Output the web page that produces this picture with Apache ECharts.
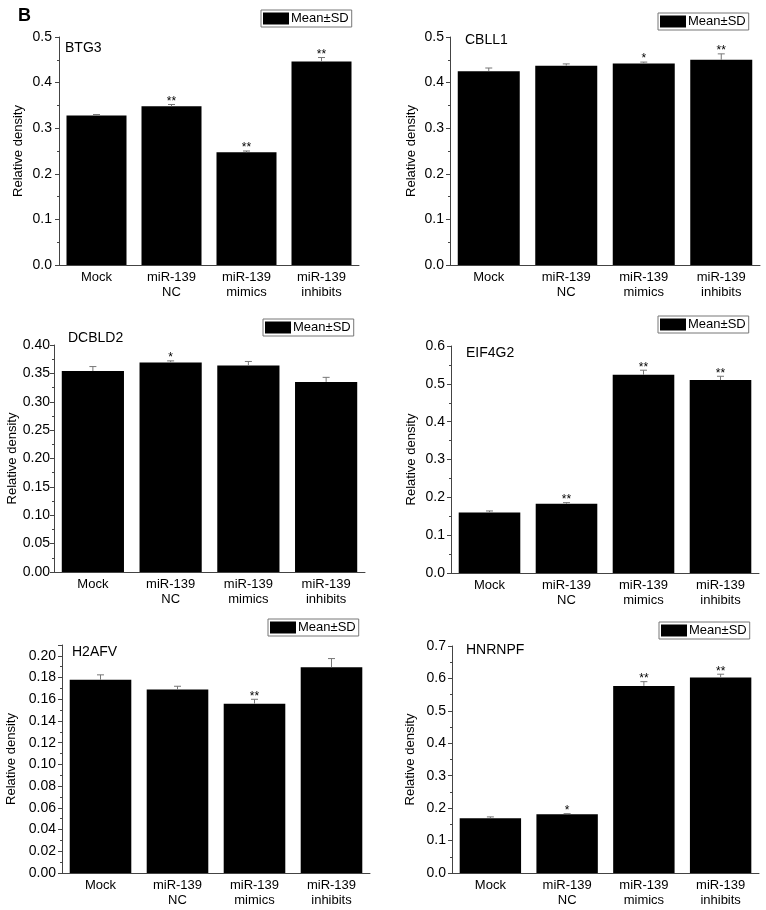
<!DOCTYPE html>
<html>
<head>
<meta charset="utf-8">
<script src="https://cdn.jsdelivr.net/npm/echarts@6/dist/echarts.min.js"></script>
<style>
html,body{margin:0;padding:0;background:#fff;}
#chart{width:766px;height:910px;}
</style>
</head>
<body>
<div id="chart"></div>
<script>
// ---- data ----
const categories = ['Mock', 'miR-139\nNC', 'miR-139\nmimics', 'miR-139\ninhibits'];
const geneNames = ['BTG3', 'CBLL1', 'DCBLD2', 'EIF4G2', 'H2AFV', 'HNRNPF'];

const btg3Mean = [0.328, 0.348, 0.247, 0.446];
const btg3SD = [0.002, 0.004, 0.003, 0.009];
const btg3Sig = ['', '**', '**', '**'];

const cbll1Mean = [0.425, 0.437, 0.442, 0.450];
const cbll1SD = [0.007, 0.004, 0.003, 0.013];
const cbll1Sig = ['', '', '*', '**'];

const dcbld2Mean = [0.354, 0.369, 0.364, 0.335];
const dcbld2SD = [0.008, 0.003, 0.007, 0.008];
const dcbld2Sig = ['', '*', '', ''];

const eif4g2Mean = [0.160, 0.183, 0.524, 0.510];
const eif4g2SD = [0.004, 0.003, 0.012, 0.010];
const eif4g2Sig = ['', '**', '**', '**'];

const h2afvMean = [0.178, 0.169, 0.156, 0.1895];
const h2afvSD = [0.0045, 0.003, 0.004, 0.008];
const h2afvSig = ['', '', '**', ''];

const hnrnpfMean = [0.169, 0.181, 0.577, 0.603];
const hnrnpfSD = [0.004, 0.002, 0.013, 0.010];
const hnrnpfSig = ['', '*', '**', '**'];

const yMaxList = [0.5, 0.5, 0.40, 0.6, 0.21, 0.7];
const yIntervalList = [0.1, 0.1, 0.05, 0.1, 0.02, 0.1];
const yDecimalsList = [1, 1, 2, 1, 2, 1];

// ---- layout ----
const means = [btg3Mean, cbll1Mean, dcbld2Mean, eif4g2Mean, h2afvMean, hnrnpfMean];
const sds = [btg3SD, cbll1SD, dcbld2SD, eif4g2SD, h2afvSD, hnrnpfSD];
const sigs = [btg3Sig, cbll1Sig, dcbld2Sig, eif4g2Sig, h2afvSig, hnrnpfSig];

const grids = [
  {left: 59, top: 37, width: 300, height: 228},
  {left: 450, top: 37, width: 310, height: 228},
  {left: 54, top: 345, width: 311, height: 227},
  {left: 451, top: 346, width: 308, height: 227},
  {left: 62, top: 645, width: 308, height: 228},
  {left: 452, top: 646, width: 307, height: 227}
];
const nameGaps = [34, 32, 35, 33, 44, 35];
const labelMargins = [7, 6, 4, 6, 6, 6];
const legendPos = [
  {left: 261, top: 10}, {left: 658, top: 13},
  {left: 263, top: 319}, {left: 658, top: 316},
  {left: 268, top: 619}, {left: 659, top: 622}
];
const genePos = [
  {left: 65, top: 41}, {left: 465, top: 33},
  {left: 68, top: 331}, {left: 466, top: 346},
  {left: 72, top: 645}, {left: 466, top: 643}
];

const FONT = '"Liberation Sans", Arial, Helvetica, sans-serif';
const axisColor = '#444';

const option = {
  animation: false,
  backgroundColor: '#fff',
  textStyle: {fontFamily: FONT},
  grid: grids.map(g => Object.assign({containLabel: false, outerBoundsMode: 'none'}, g)),
  legend: legendPos.map(p => ({
    left: p.left, top: p.top,
    data: ['Mean±SD'],
    icon: 'rect',
    itemWidth: 26, itemHeight: 12, itemGap: 0,
    padding: [2, 3, 2, 2],
    borderColor: '#777', borderWidth: 1, borderRadius: 0,
    selectedMode: false,
    textStyle: {fontSize: 13, color: '#000', fontFamily: FONT, padding: [0, 0, 0, -3]}
  })),
  xAxis: grids.map((g, i) => ({
    type: 'category', gridIndex: i, data: categories,
    axisLine: {lineStyle: {color: axisColor, width: 1}},
    axisTick: {show: false},
    axisLabel: {fontSize: 13, color: '#000', lineHeight: 15, margin: 5, interval: 0, fontFamily: FONT},
    splitLine: {show: false}
  })),
  yAxis: grids.map((g, i) => ({
    type: 'value', gridIndex: i, min: 0, max: yMaxList[i], interval: yIntervalList[i],
    name: 'Relative density', nameLocation: 'middle', nameGap: nameGaps[i],
    nameTextStyle: {fontSize: 13, color: '#000', fontFamily: FONT},
    axisLine: {show: true, lineStyle: {color: axisColor, width: 1}},
    axisTick: {show: true, length: 4, lineStyle: {color: axisColor}},
    minorTick: {show: true, splitNumber: 2, length: 2, lineStyle: {color: axisColor}},
    axisLabel: {
      fontSize: 14, color: '#000', margin: labelMargins[i], fontFamily: FONT, showMaxLabel: i === 4 ? false : true,
      formatter: v => (Math.abs(v - yMaxList[i]) < 1e-9 && i === 4) ? '' : v.toFixed(yDecimalsList[i])
    },
    splitLine: {show: false}
  })),
  series: [],
  graphic: []
};

means.forEach((m, i) => {
  option.series.push({
    name: 'Mean±SD', type: 'bar', xAxisIndex: i, yAxisIndex: i,
    data: m, barWidth: '80%',
    itemStyle: {color: '#000', borderColor: '#111', borderWidth: 0}
  });
  option.series.push({
    name: 'err' + i, type: 'custom', xAxisIndex: i, yAxisIndex: i,
    data: m.map((v, k) => [k, v, sds[i][k]]),
    z: 5,
    renderItem: function (params, api) {
      const k = api.value(0), mv = api.value(1), sd = api.value(2);
      const base = api.coord([k, mv]);
      const top = api.coord([k, mv + sd]);
      const children = [
        {type: 'line', shape: {x1: base[0], y1: base[1], x2: top[0], y2: top[1]}, style: {stroke: '#777', lineWidth: 1}},
        {type: 'line', shape: {x1: top[0] - 3.5, y1: top[1], x2: top[0] + 3.5, y2: top[1]}, style: {stroke: '#777', lineWidth: 1}}
      ];
      const s = sigs[i][params.dataIndex];
      if (s) {
        children.push({type: 'text', style: {text: s, x: top[0], y: top[1] - 3, align: 'center', verticalAlign: 'middle', fontSize: 12, fill: '#000', fontFamily: FONT}});
      }
      return {type: 'group', children: children};
    }
  });
  option.graphic.push({
    type: 'text', left: genePos[i].left, top: genePos[i].top,
    style: {text: geneNames[i], fontSize: 14, fill: '#000', fontFamily: FONT}
  });
});
option.graphic.push({
  type: 'text', left: 18, top: 7,
  style: {text: 'B', fontSize: 18, fontWeight: 'bold', fill: '#000', fontFamily: FONT}
});

const chart = echarts.init(document.getElementById('chart'), null, {renderer: 'canvas'});
chart.setOption(option);
</script>
</body>
</html>
